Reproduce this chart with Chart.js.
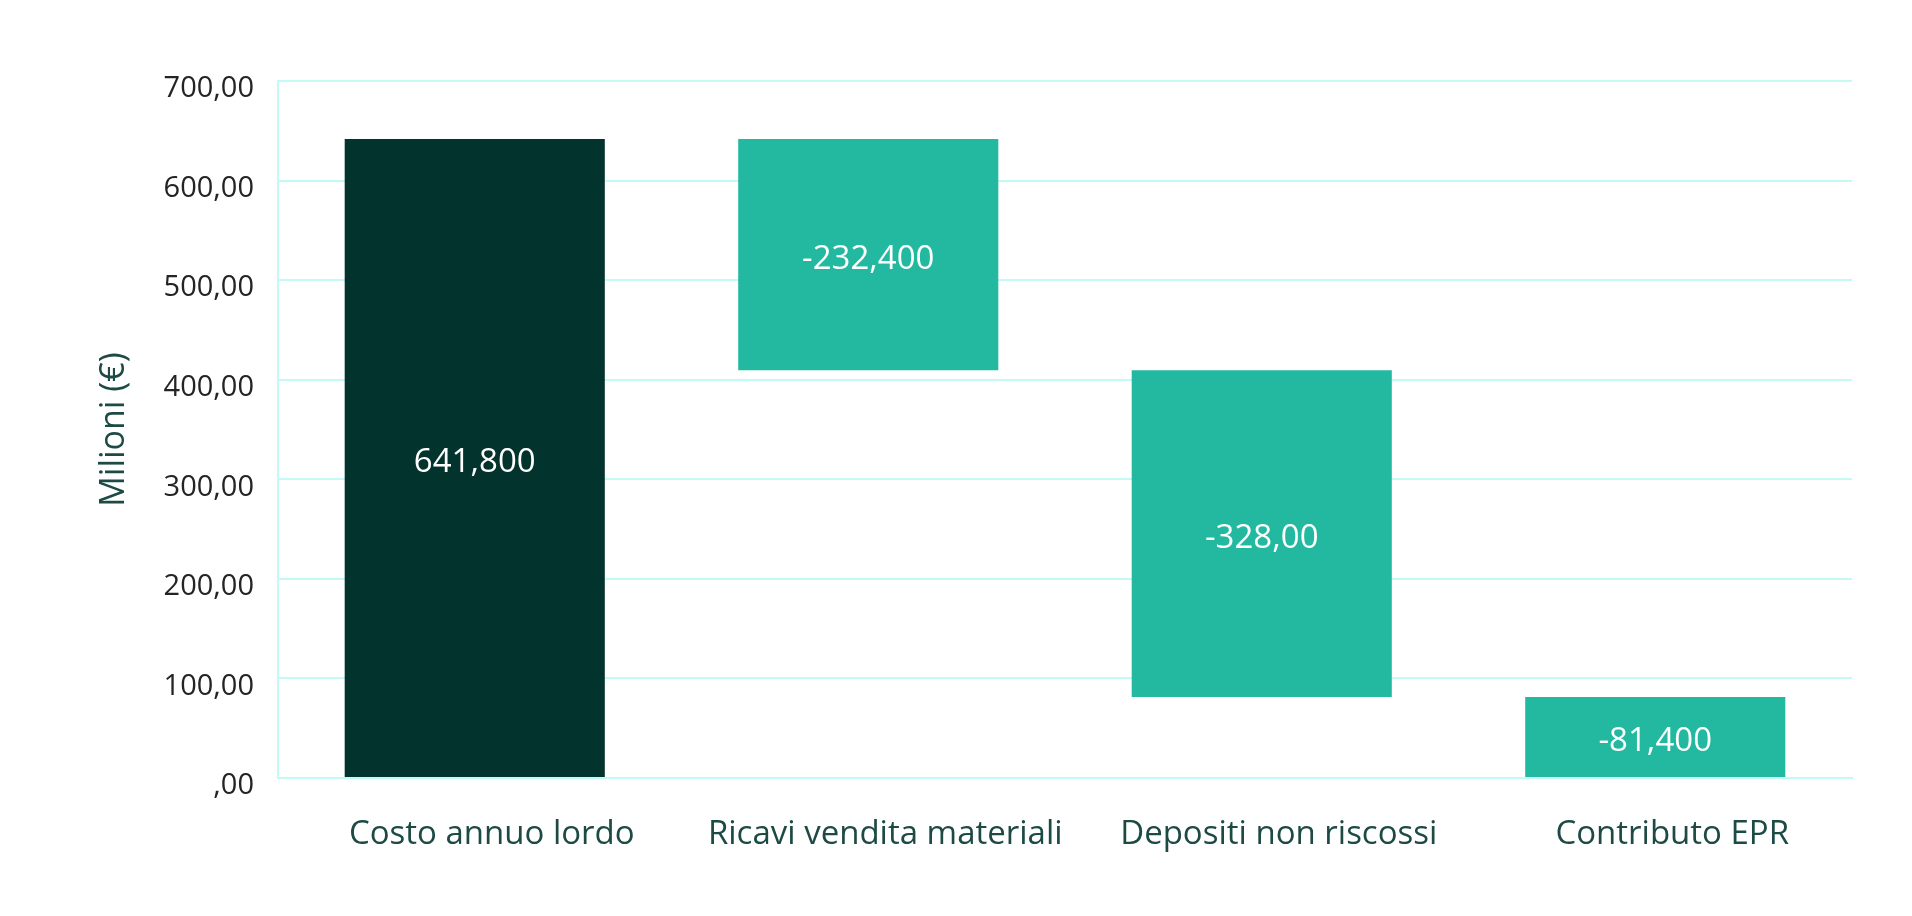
<!DOCTYPE html>
<html>
<head>
<meta charset="utf-8">
<script src="https://cdn.jsdelivr.net/npm/chart.js@4.4.1/dist/chart.umd.min.js"></script>
<style>
  html, body { margin: 0; padding: 0; background: #ffffff; }
  #wrap { width: 1912px; height: 916px; position: relative; }
</style>
</head>
<body>
<div id="wrap"><canvas id="c" width="1912" height="916"></canvas></div>
<script>
// ---- data ----
const categories = ["Costo annuo lordo", "Ricavi vendita materiali", "Depositi non riscossi", "Contributo EPR"];
const deltas = [641.8, -232.4, -328.0, -81.4];
const valueLabels = ["641,800", "-232,400", "-328,00", "-81,400"];
const yTicks = [0, 100, 200, 300, 400, 500, 600, 700];
const yTickLabels = [",00", "100,00", "200,00", "300,00", "400,00", "500,00", "600,00", "700,00"];
const yTitle = "Milioni (€)";

// floating bar ranges for the waterfall
const ranges = [];
let running = 0;
deltas.forEach(d => { const s = running; running += d; ranges.push([Math.min(s, running), Math.max(s, running)]); });
const barColors = deltas.map((d, i) => i === 0 ? "#02332d" : "#23b9a0");

const labelPlugin = {
  id: "barLabels",
  afterDatasetsDraw(chart) {
    const ctx = chart.ctx;
    const meta = chart.getDatasetMeta(0);
    ctx.save();
    ctx.font = "33px 'Open Sans'";
    ctx.fillStyle = "#ffffff";
    ctx.textAlign = "center";
    ctx.textBaseline = "middle";
    meta.data.forEach((bar, i) => {
      const p = bar.getProps(["x", "y", "base"], true);
      ctx.fillText(valueLabels[i], p.x, (p.y + p.base) / 2 + 5);
    });
    ctx.restore();
  }
};

const gridColor = "#c3faf5";

new Chart(document.getElementById("c"), {
  type: "bar",
  data: {
    labels: categories,
    datasets: [{
      data: ranges,
      backgroundColor: barColors,
      borderWidth: 0,
      borderSkipped: false,
      barPercentage: 0.661,
      categoryPercentage: 1.0
    }]
  },
  options: {
    responsive: false,
    animation: false,
    devicePixelRatio: 1,
    layout: { padding: { top: 81, right: 60, left: 0, bottom: 0 } },
    plugins: { legend: { display: false }, tooltip: { enabled: false } },
    scales: {
      x: {
        grid: { display: false, drawTicks: false },
        border: { display: true, color: gridColor, width: 2 },
        ticks: {
          color: "#1d4a44",
          font: { family: "'Open Sans'", size: 33 },
          padding: 37,
          labelOffset: 17,
          maxRotation: 0,
          autoSkip: false
        },
        afterFit(scale) { scale.height = 916 - 778; }
      },
      y: {
        min: 0, max: 700,
        afterBuildTicks(scale) { scale.ticks = yTicks.map(v => ({ value: v })); },
        grid: { color: gridColor, lineWidth: 2, drawTicks: false },
        border: { display: true, color: gridColor, width: 2 },
        ticks: {
          color: "#252423",
          font: { family: "'Open Sans'", size: 29 },
          padding: 24,
          labelOffset: 8,
          callback: (v) => yTickLabels[yTicks.indexOf(v)]
        },
        title: {
          display: true,
          text: yTitle,
          color: "#1d4a44",
          font: { family: "'Open Sans'", size: 34 },
          padding: { top: 94, bottom: 0 }
        },
        afterFit(scale) { scale.width = 278; }
      }
    }
  },
  plugins: [labelPlugin]
});
</script>
</body>
</html>
